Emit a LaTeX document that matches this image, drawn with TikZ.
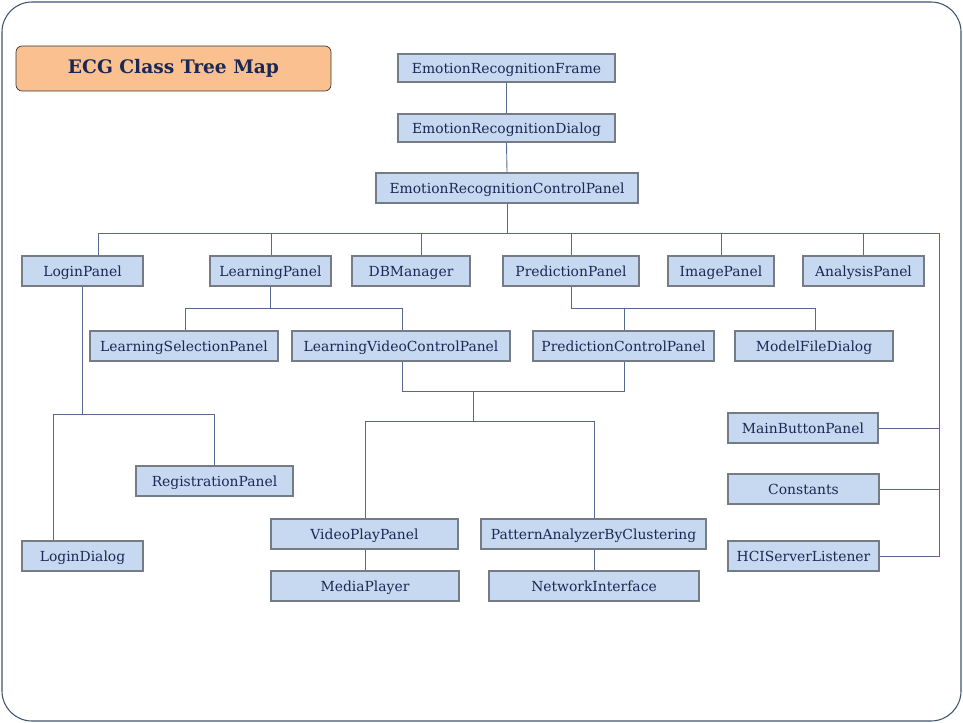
\documentclass[tikz,border=0pt]{standalone}
\usepackage{fontspec}
\setmainfont{DejaVu Serif}
\usepackage{tikz}
\definecolor{boxB}{RGB}{198,217,240}
\definecolor{boxG}{RGB}{118,124,134}
\definecolor{txtB}{RGB}{25,40,85}
\definecolor{lineB}{RGB}{85,105,145}
\definecolor{frameB}{RGB}{60,85,110}
\definecolor{titleO}{RGB}{250,192,143}
\tikzset{
  cls/.style={draw=boxG,line width=1.1pt,fill=boxB,text=txtB,font=\fontsize{7.9}{9}\selectfont,minimum height=0.6cm,inner sep=0pt,text height=1.55ex,text depth=0.45ex},
  conn/.style={draw=lineB,line width=0.5pt}
}
\begin{document}
\begin{tikzpicture}[x=0.02cm,y=-0.02cm]
\useasboundingbox (0,0) rectangle (963,723);
\draw[frameB,line width=0.6pt,rounded corners=0.6cm] (2,2) rectangle (961,721);
\node[draw=black!80,fill=titleO,rounded corners=0.12cm,minimum width=6.3cm,minimum height=0.9cm,text=txtB,font=\fontsize{10.6}{12}\selectfont\bfseries] (title) at (173.5,68.5) {ECG Class Tree Map};
\node[cls,minimum width=4.34cm,minimum height=0.56cm] (erf) at (506.5,68) {EmotionRecognitionFrame};
\node[cls,minimum width=4.34cm,minimum height=0.56cm] (erd) at (506.5,128) {EmotionRecognitionDialog};
\node[cls,minimum width=5.24cm] (ercp) at (507,188) {EmotionRecognitionControlPanel};
\node[cls,minimum width=2.42cm] (login) at (82.5,271) {LoginPanel};
\node[cls,minimum width=2.42cm] (learn) at (270.5,271) {LearningPanel};
\node[cls,minimum width=2.36cm] (db) at (411,271) {DBManager};
\node[cls,minimum width=2.72cm] (pred) at (571,271) {PredictionPanel};
\node[cls,minimum width=2.12cm] (img) at (721,271) {ImagePanel};
\node[cls,minimum width=2.42cm] (anal) at (863.5,271) {AnalysisPanel};
\node[cls,minimum width=3.76cm] (lsel) at (184,346) {LearningSelectionPanel};
\node[cls,minimum width=4.36cm] (lvcp) at (401,346) {LearningVideoControlPanel};
\node[cls,minimum width=3.62cm] (pcp) at (623.5,346) {PredictionControlPanel};
\node[cls,minimum width=3.16cm] (mfd) at (814,346) {ModelFileDialog};
\node[cls,minimum width=3.14cm] (reg) at (214.5,481) {RegistrationPanel};
\node[cls,minimum width=2.42cm] (logd) at (82.5,556) {LoginDialog};
\node[cls,minimum width=3.74cm] (vpp) at (364.5,534) {VideoPlayPanel};
\node[cls,minimum width=3.76cm] (mp) at (365,586) {MediaPlayer};
\node[cls,minimum width=4.5cm] (pabc) at (593.5,534) {PatternAnalyzerByClustering};
\node[cls,minimum width=4.2cm] (ni) at (594,586) {NetworkInterface};
\node[cls,minimum width=3.0cm] (mbp) at (803,428) {MainButtonPanel};
\node[cls,minimum width=3.02cm] (const) at (803.5,489) {Constants};
\node[cls,minimum width=3.02cm] (hci) at (803.5,556) {HCIServerListener};
\coordinate (busL) at (98,233);
\coordinate (busR) at (939,233);
\draw[conn] (erf.south) -- (erd.north);
\draw[conn] (erd.south) -- (ercp.north);
\draw[conn] (ercp.south) -- (ercp.south |- busL);
\draw[conn] (busL |- login.north) -- (busL) -- (busR) |- (hci.east);
\foreach \n/\x in {learn/271,db/421,pred/571,img/721,anal/863}
  \draw[conn] (\x,233) -- (\x,233 |- \n.north);
\draw[conn] (mbp.east) -- (mbp.east -| busR);
\draw[conn] (const.east) -- (const.east -| busR);
\draw[conn] (learn.south) -- (learn.south |- 0,308);
\draw[conn] (lsel.north -| 185,0) |- (402,308) -- (lvcp.north -| 402,0);
\draw[conn] (pred.south) |- (815,308) -- (mfd.north -| 815,0);
\draw[conn] (624,308) -- (pcp.north -| 624,0);
\draw[conn] (lvcp.south -| 402,0) |- (624,391) -- (pcp.south -| 624,0);
\draw[conn] (473,391) -- (473,421);
\draw[conn] (vpp.north -| 365,0) |- (594,421) -- (pabc.north -| 594,0);
\draw[conn] (vpp.south -| 365,0) -- (mp.north -| 365,0);
\draw[conn] (pabc.south -| 594,0) -- (ni.north -| 594,0);
\draw[conn] (login.south) -- (login.south |- 0,414);
\draw[conn] (logd.north -| 53,0) |- (reg.north |- 0,414) -- (reg.north);
\end{tikzpicture}
\end{document}
